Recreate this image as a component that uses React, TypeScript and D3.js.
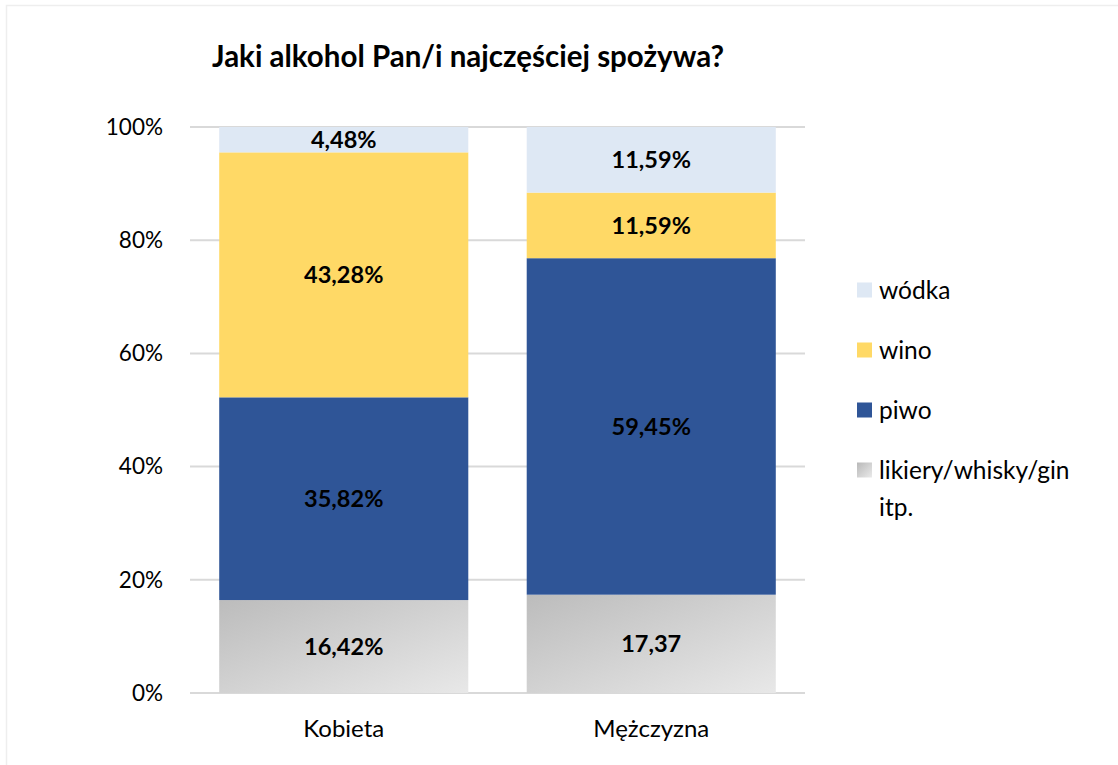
import React from "react";
import * as d3 from "d3";

const categories = ["Kobieta", "Mężczyzna"];
const seriesNames = ["likiery/whisky/gin itp.", "piwo", "wino", "wódka"];
const likiery = [16.42, 17.37];
const piwo = [35.82, 59.45];
const wino = [43.28, 11.59];
const wodka = [4.48, 11.59];
const labelsLikiery = ["16,42%", "17,37"];
const labelsPiwo = ["35,82%", "59,45%"];
const labelsWino = ["43,28%", "11,59%"];
const labelsWodka = ["4,48%", "11,59%"];
const yTicks = [0, 20, 40, 60, 80, 100];
const yTickLabels = ["0%", "20%", "40%", "60%", "80%", "100%"];

const W = 1118;
const H = 765;
const FONT = "Lato, 'Open Sans', sans-serif";

export default function App() {
  const x = d3.scaleBand<string>().domain(categories).range([190, 805]).paddingInner(0.19).paddingOuter(0.095);
  const y = d3.scaleLinear().domain([0, 100]).range([693, 127]);

  const seriesVals = [likiery, piwo, wino, wodka];
  const seriesLabels = [labelsLikiery, labelsPiwo, labelsWino, labelsWodka];
  const fills = ["url(#greyGrad)", "#2F5597", "#FFD966", "#DEE8F4"];

  const rows = categories.map((c, i) => {
    const r: any = { cat: c };
    seriesNames.forEach((s, k) => (r[s] = seriesVals[k][i]));
    return r;
  });
  const stacked = d3.stack<any>().keys(seriesNames)(rows);

  const legendItems = [
    { name: "wódka", fill: "#DEE8F4", y: 290 },
    { name: "wino", fill: "#FFD966", y: 350 },
    { name: "piwo", fill: "#2F5597", y: 410 },
    { name: "likiery/whisky/gin", fill: "url(#greyGradL)", y: 470, extra: "itp." },
  ];

  return (
    <svg width={W} height={H} style={{ position: "absolute", left: 0, top: 0, background: "#fff" }} fontFamily={FONT}>
      <defs>
        <linearGradient id="greyGrad" x1="0" y1="0" x2="1" y2="1">
          <stop offset="0" stopColor="#BCBCBC" />
          <stop offset="1" stopColor="#E8E8E8" />
        </linearGradient>
        <linearGradient id="greyGradL" x1="0" y1="0" x2="1" y2="1">
          <stop offset="0" stopColor="#B8B8B8" />
          <stop offset="1" stopColor="#EAEAEA" />
        </linearGradient>
      </defs>
      <rect x={6.5} y={5.5} width={W} height={H} fill="#fff" stroke="#EEEEEE" strokeWidth={1.5} />
      <text x={468} y={67} textAnchor="middle" fontSize={29.5} fontWeight="bold" fill="#000">
        Jaki alkohol Pan/i najczęściej spożywa?
      </text>
      {yTicks.map((t, i) => (
        <g key={t}>
          <line x1={190} x2={805} y1={y(t)} y2={y(t)} stroke="#D9D9D9" strokeWidth={2} />
          <text x={163} y={y(t)} dy="0.35em" textAnchor="end" fontSize={22.5} fill="#000">
            {yTickLabels[i]}
          </text>
        </g>
      ))}
      {stacked.map((s, k) => (
        <g key={s.key}>
          {s.map((d, i) => (
            <g key={i}>
              <rect
                x={x(categories[i])}
                width={x.bandwidth()}
                y={y(d[1])}
                height={y(d[0]) - y(d[1])}
                fill={fills[k]}
              />
              <text
                x={(x(categories[i]) as number) + x.bandwidth() / 2}
                y={(y(d[0]) + y(d[1])) / 2}
                dy="0.35em"
                textAnchor="middle"
                fontSize={23.5}
                fontWeight="bold"
                fill="#000"
              >
                {seriesLabels[k][i]}
              </text>
            </g>
          ))}
        </g>
      ))}
      {categories.map((c) => (
        <text key={c} x={(x(c) as number) + x.bandwidth() / 2} y={729} dy="0.35em" textAnchor="middle" fontSize={24} fill="#000">
          {c}
        </text>
      ))}
      {legendItems.map((l) => (
        <g key={l.name}>
          <rect x={857} y={l.y - 7.5} width={15} height={15} fill={l.fill} />
          <text x={879} y={l.y} dy="0.35em" fontSize={24.5} fill="#000">
            {l.name}
          </text>
          {l.extra && (
            <text x={879} y={l.y + 37} dy="0.35em" fontSize={24.5} fill="#000">
              {l.extra}
            </text>
          )}
        </g>
      ))}
    </svg>
  );
}
